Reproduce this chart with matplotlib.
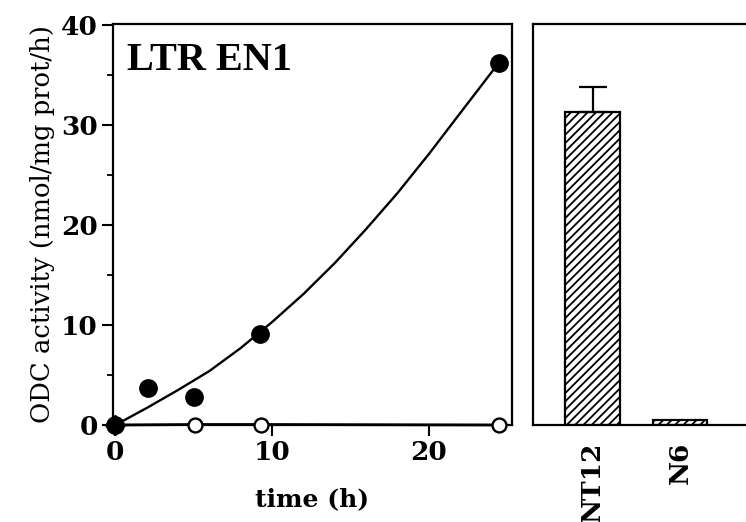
import numpy as np
import matplotlib
matplotlib.use('Agg')
import matplotlib.pyplot as plt
from matplotlib.ticker import MultipleLocator

plt.rcParams['font.family'] = ['DejaVu Serif']
plt.rcParams['hatch.linewidth'] = 1.3

# 时间曲线数据 (LTR EN1)
filled_t = [0, 2.1, 5.0, 9.2, 24.5]
filled_v = [0, 3.7, 2.8, 9.1, 36.2]
open_t = [0, 5.1, 9.3, 24.5]
open_v = [0, 0.05, 0.05, 0]
curve_t = [0, 2, 4, 6, 8, 10, 12, 14, 16, 18, 20, 22, 24.5]
curve_v = [0, 1.7, 3.5, 5.4, 7.7, 10.3, 13.1, 16.2, 19.6, 23.2, 27.1, 31.2, 36.3]

# 柱状图数据
bar_labels = ['NT12', 'N6']
bar_vals = [31.3, 0.5]
bar_err = [2.5, 0]

fig = plt.figure(figsize=(7.46, 5.22), dpi=100)
ax = fig.add_axes([113/746, 1-425/522, 399/746, 401/522])
ax2 = fig.add_axes([533/746, 1-425/522, 1-533/746, 401/522])

# ===== 左图 =====
ax.plot(curve_t, curve_v, color='black', lw=1.7, zorder=2)
ax.plot(open_t, open_v, color='black', lw=2.0, marker='o', ms=10,
        mfc='white', mec='black', mew=1.7, clip_on=False, zorder=3)
ax.plot(filled_t, filled_v, ls='none', marker='o', ms=12.5,
        color='black', clip_on=False, zorder=4)
ax.plot(filled_t[:1], filled_v[:1], ls='none', marker='D', ms=10,
        color='black', clip_on=False, zorder=5)

ax.set_xlim(-0.15, 25.3)
ax.set_ylim(0, 40.1)
ax.xaxis.set_major_locator(MultipleLocator(10))
ax.yaxis.set_major_locator(MultipleLocator(10))
ax.yaxis.set_minor_locator(MultipleLocator(5))
ax.tick_params(axis='both', which='major', direction='out', length=8, width=1.5,
               labelsize=19, pad=3, top=False, right=False)
ax.tick_params(axis='y', which='minor', direction='out', length=4, width=1.3)
for lbl in ax.get_xticklabels() + ax.get_yticklabels():
    lbl.set_fontweight('bold')
for sp in ax.spines.values():
    sp.set_linewidth(1.6)

ax.set_xlabel('time (h)', fontsize=18, fontweight='bold', labelpad=16)
ax.set_ylabel('ODC activity (nmol/mg prot/h)', fontsize=18.6, labelpad=4)
ax.text(0.035, 0.885, 'LTR EN1', transform=ax.transAxes, fontsize=29,
        fontweight='bold', ha='left', va='baseline', family='Liberation Serif')

# ===== 右图 =====
pos = np.arange(len(bar_labels))
ax2.bar(pos, bar_vals, width=0.62, color='white', edgecolor='black',
        linewidth=1.6, hatch='////', zorder=2)
ax2.errorbar(pos[:1], bar_vals[:1], yerr=[[0], bar_err[:1]], fmt='none',
             ecolor='black', elinewidth=1.6, capsize=10, capthick=1.6, zorder=3)
ax2.set_xlim(-0.68, 1.75)
ax2.set_ylim(0, 40.1)
ax2.set_xticks(pos)
ax2.set_xticklabels(bar_labels, rotation=90, fontsize=19, fontweight='bold')
ax2.set_yticks([])
ax2.tick_params(axis='x', length=0, pad=12)
ax2.spines['right'].set_visible(False)
for sp in ax2.spines.values():
    sp.set_linewidth(1.6)

fig.savefig('out.png', dpi=100, facecolor='white')
